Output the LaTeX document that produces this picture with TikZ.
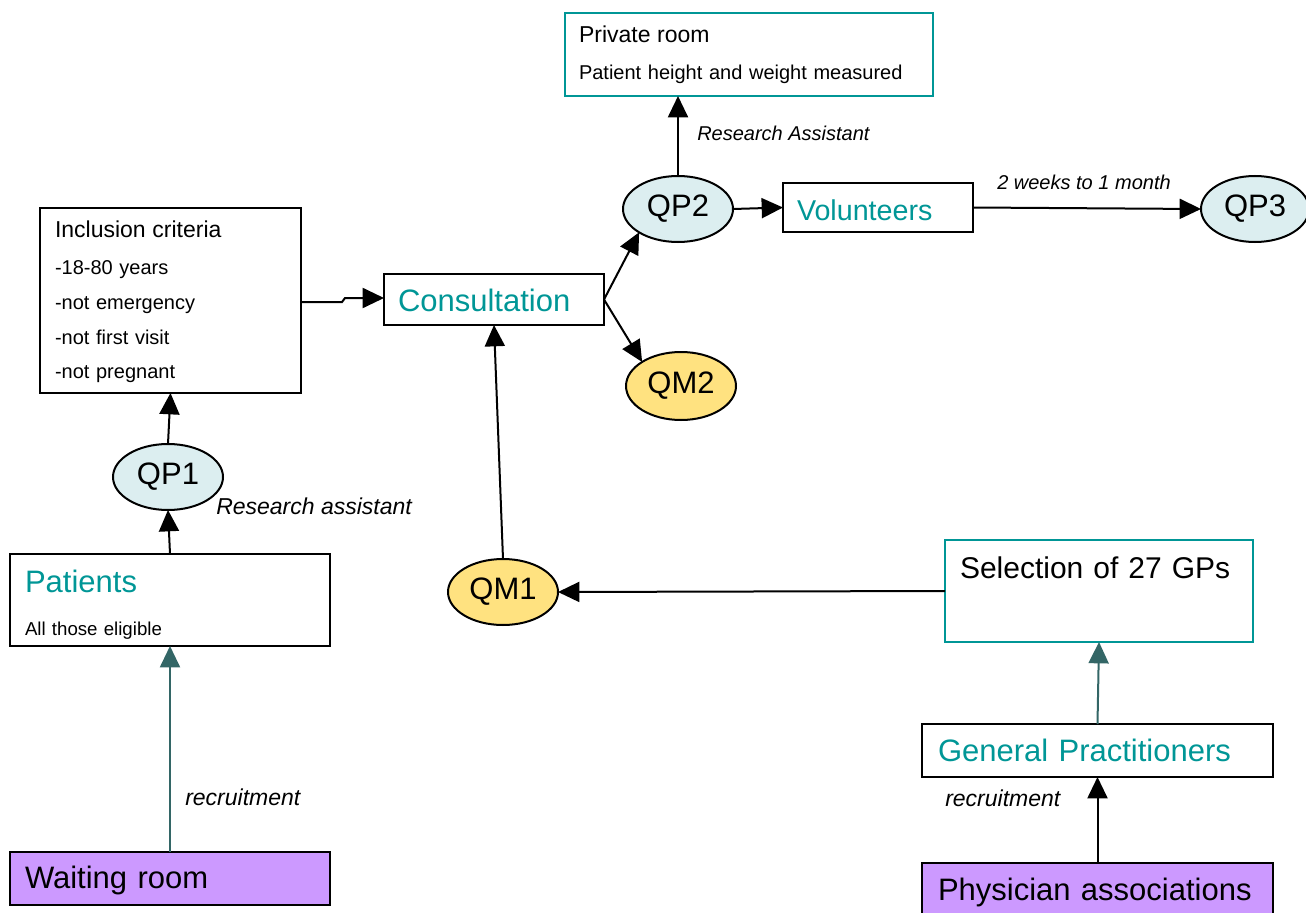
\documentclass[tikz,border=0pt]{standalone}
\usepackage{fontspec}
\setmainfont{Liberation Sans}
\usetikzlibrary{shapes.geometric,arrows.meta,calc}
\definecolor{tealtxt}{RGB}{0,150,150}
\definecolor{darkteal}{RGB}{51,102,102}
\definecolor{qpfill}{RGB}{220,238,240}
\definecolor{qmfill}{RGB}{255,226,128}
\definecolor{purp}{RGB}{204,153,255}
\newcommand\FBig{\fontsize{23.25}{28}\selectfont}
\newcommand\FMid{\fontsize{17.25}{21}\selectfont}
\newcommand\FSml{\fontsize{15}{18}\selectfont}
\begin{document}
\begin{tikzpicture}[x=0.75pt,y=-0.75pt,
  box/.style={draw=black, line width=1.5pt, rectangle, inner ysep=0pt, outer sep=0pt, align=left},
  tbox/.style={box, draw=tealtxt},
  qp/.style={ellipse, draw=black, line width=1.5pt, fill=qpfill, inner sep=0pt, outer sep=0pt, minimum width=82.5pt, minimum height=49.5pt, font=\FBig},
  qm/.style={qp, fill=qmfill},
  arr/.style={line width=1.5pt, -{Triangle[length=16pt,width=15pt]}},
  tarr/.style={arr, draw=darkteal, -{Triangle[length=16pt,width=15pt,fill=darkteal]}},
  lbl/.style={font=\FMid\itshape, inner sep=0pt, anchor=base west},
  slbl/.style={font=\FSml\itshape, inner sep=0pt, anchor=base west}]
\useasboundingbox (0,0) rectangle (1306,913);

% boxes
\node[tbox, anchor=north west, inner xsep=10.5pt, text width=255pt, text height=22.5pt, text depth=39.75pt,
  font=\fontsize{15}{27.75}\selectfont] (priv) at (565,13)
  {{\FMid Private room}\\Patient height and weight measured};
\node[box, anchor=north west, inner xsep=11.25pt, text width=173.25pt, text height=22.5pt, text depth=116.25pt,
  font=\fontsize{15}{25.9}\selectfont] (incl) at (40,208)
  {{\FMid Inclusion criteria}\\[1.85pt]-18-80 years\\-not emergency\\-not first visit\\-not pregnant};
\node[box, anchor=north west, inner xsep=10.5pt, text width=144pt, text height=27.75pt, text depth=10.5pt,
  font=\FBig, text=tealtxt] (cons) at (384,274) {Consultation};
\node[box, anchor=north west, inner xsep=10.5pt, text width=121.5pt, text height=27.75pt, text depth=9pt,
  font=\fontsize{21.5}{26}\selectfont, text=tealtxt] (vol) at (783,183) {Volunteers};
\node[box, anchor=north west, inner xsep=11.25pt, text width=217.5pt, text height=28.5pt, text depth=40.5pt,
  font=\fontsize{14}{32.25}\selectfont] (pat) at (10,554)
  {{\FBig\color{tealtxt}Patients}\\All those eligible};
\node[box, anchor=north west, fill=purp, inner xsep=11.25pt, text width=217.5pt, text height=27pt, text depth=12.75pt,
  font=\FBig] (wait) at (10,852) {Waiting room};
\node[tbox, anchor=north west, inner xsep=11.25pt, text width=208.5pt, text height=28.5pt, text depth=48pt,
  font=\fontsize{22.5}{27}\selectfont] (sel) at (945,540) {\mbox{Selection of 27 GPs}};
\node[box, anchor=north west, inner xsep=12pt, text width=239.25pt, text height=27.75pt, text depth=12pt,
  font=\FBig, text=tealtxt] (gp) at (922,724) {General Practitioners};
\node[box, anchor=north west, fill=purp, inner xsep=12pt, text width=239.25pt, text height=27.75pt, text depth=13.5pt,
  font=\FBig] (phys) at (922,863) {Physician associations};

% ellipses
\node[qp] (qp1) at (168,477) {QP1};
\node[qp] (qp2) at (678,209) {QP2};
\node[qp, minimum width=81pt] (qp3) at (1255,209) {QP3};
\node[qm, minimum height=51pt] (qm2) at (681,386) {QM2};
\node[qm] (qm1) at (503,592) {QM1};

% labels
\node[slbl] (lra) at (697,141) {Research Assistant};
\node[slbl] (lwk) at (997,190) {2 weeks to 1 month};
\node[lbl] (lra2) at (216,514) {Research assistant};
\node[lbl] (lrec1) at (185,805) {recruitment};
\node[lbl] (lrec2) at (945,806) {recruitment};

% connectors
\draw[tarr] (wait.north) -- (pat.south);
\draw[arr] (pat.north) -- (qp1.south);
\draw[arr] (qp1.north) -- (incl.south);
\draw[arr] ($(incl.east)+(0,1.5)$) -- ++(41,0) -- ($(cons.west)+(-39,-1.5)$) -- ($(cons.west)+(0,-1.5)$);
\draw[arr] (cons.east) -- (qp2.south west);
\draw[arr] (cons.east) -- (qm2.north west);
\draw[arr] (qp2.north) -- (qp2.north |- priv.south);
\draw[arr] (qp2.east) -- (vol.west);
\draw[arr] (vol.east) -- (qp3.west);
\draw[arr] (qm1.north) -- (cons.south);
\draw[arr] (sel.west) -- (qm1.east);
\draw[tarr] (gp.north) -- (sel.south);
\draw[arr] (phys.north) -- (gp.south);
\end{tikzpicture}
\end{document}
